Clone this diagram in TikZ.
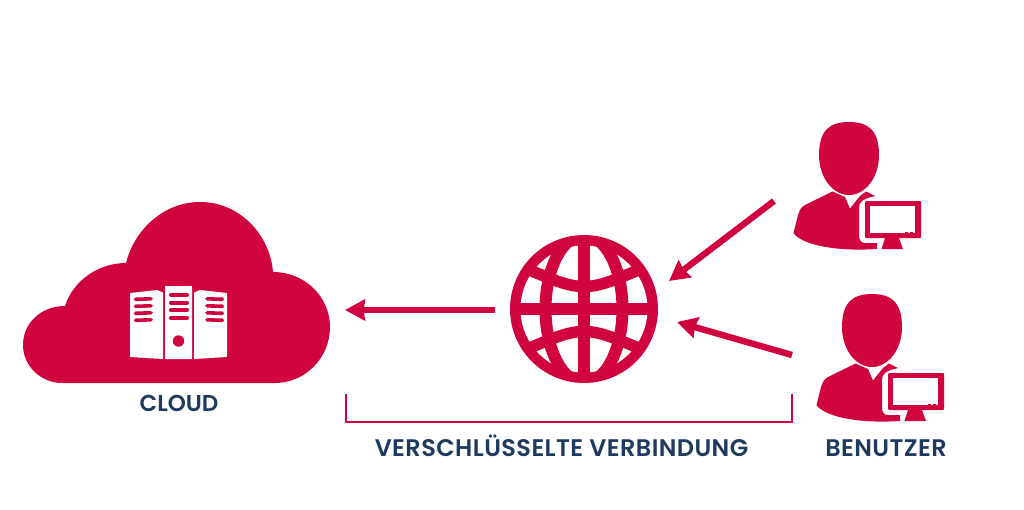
\documentclass[tikz,border=0pt]{standalone}
\usepackage{fontspec}
\setmainfont{Poppins SemiBold}
\usetikzlibrary{arrows.meta}
\definecolor{brandred}{HTML}{D0043F}
\definecolor{brandnavy}{HTML}{1E3A5F}
\tikzset{
  label text/.style={text=brandnavy,font=\fontsize{24}{26}\selectfont\addfontfeature{LetterSpace=1.8},inner sep=0pt,anchor=base},
  flow/.style={draw=brandred,line width=6.4pt,-{Stealth[length=20pt,width=21pt,inset=1.5pt]}},
  bracket line/.style={draw=brandred,line width=2.8pt},
  spot/.style={inner sep=0pt,minimum size=0pt},
  person/.pic={
    \fill[brandred] (849,122) .. controls (830,122) and (819,130) .. (819,155)
      .. controls (819,178) and (833,195) .. (849,195)
      .. controls (865,195) and (879,178) .. (879,155)
      .. controls (879,130) and (868,122) .. (849,122) -- cycle;
    \fill[brandred] (832.5,191.5) -- (805,205) .. controls (800,208) and (800,210) .. (798,215)
      -- (793.5,233) .. controls (800,243) and (830,252) .. (877,249) -- (877,243)
      -- (865,243) .. controls (861,243) and (859,240) .. (859,236) -- (859,208)
      .. controls (859,202) and (862,199) .. (875,196) -- (866,191.5) -- (860,196)
      -- (850,208.5) -- (845,197) -- cycle;
    \fill[brandred,rounded corners=1pt] (865,201) rectangle (921,238);
    \fill[white] (869.5,206) rectangle (915,233);
    \fill[brandred] (905,233) rectangle (908,232) (910,233) rectangle (913,232);
    \fill[brandred] (885,238) -- (899,238) -- (903,249) -- (881.5,249) -- cycle;
  }
}
\begin{document}
\begin{tikzpicture}[x=1pt,y=-1pt]
\useasboundingbox (0,0) rectangle (1024,509);
% cloud
\fill[brandred] (62,383) .. controls (41,383) and (23,366) .. (23,345)
  .. controls (23,323) and (41,306) .. (65,306)
  .. controls (73,281) and (98,263) .. (126,263)
  .. controls (135,228) and (165,202) .. (200,202)
  .. controls (240,202) and (270,235) .. (273,272)
  .. controls (305,272) and (330,297) .. (330,327)
  .. controls (330,358) and (305,383) .. (275,383) -- cycle;
\node[spot,minimum width=307pt,minimum height=181pt] (cloud) at (176.5,292.5) {};
% servers
\fill[white,rounded corners=.6pt] (165,286) rectangle (192,359);
\fill[white,rounded corners=.6pt] (130,293) -- (157,290) -- (163,292.5) -- (163,359) -- (130,357) -- cycle;
\fill[white,rounded corners=.6pt] (227,293) -- (200,290) -- (194,292.5) -- (194,359) -- (227,357) -- cycle;
\foreach \sy in {294.7,302.6,310.2,318}{\draw[brandred,line width=4pt,line cap=round] (171,\sy) -- (187,\sy);}
\foreach \sy in {299.3,306.3,313.3,320.3}{
  \draw[brandred,line width=3.6pt,line cap=round] (135.5,\sy) -- (151,\sy-.5);
  \draw[brandred,line width=3.6pt,line cap=round] (207,\sy-.5) -- (222.5,\sy);}
\fill[brandred] (178.5,341) circle[radius=5.7];
% globe
\node[spot,circle,minimum size=148pt] (globe) at (584,309) {};
\fill[brandred] (584,309) circle[radius=74];
\fill[white] (584,309) circle[radius=63.5];
\begin{scope}
\clip (584,309) circle[radius=68];
\draw[brandred,line width=12.5pt] (584,235) -- (584,383);
\draw[brandred,line width=12.5pt] (510,309) -- (658,309);
\draw[brandred,line width=12pt] (584,309) ellipse[x radius=38.5,y radius=74];
\draw[brandred,line width=11.5pt] (519,265.4) .. controls (584,293.6) .. (649,265.4);
\draw[brandred,line width=11.5pt] (519,352.6) .. controls (584,324.4) .. (649,352.6);
\end{scope}
% people
\pic {person};
\pic[xshift=23pt,yshift=-172pt] {person};
% connectors
\coordinate (a1) at (494.5,310);
\coordinate (a1e) at (345,310);
\coordinate (a2) at (774,201);
\coordinate (a2e) at (669,281);
\coordinate (a3) at (792,355);
\coordinate (a3e) at (677,322);
\draw[flow] (a1) -- (a1e);
\draw[flow] (a2) -- (a2e);
\draw[flow] (a3) -- (a3e);
\coordinate (b1) at (346,394);
\coordinate (b2) at (346,422);
\coordinate (b3) at (792,422);
\coordinate (b4) at (792,394);
\draw[bracket line] (b1) -- (b2) -- (b3) -- (b4);
% labels
\node[label text,font=\fontsize{23}{26}\selectfont] (cloudlabel) at (179,411.7) {CLOUD};
\node[label text] (vpnlabel) at (561.5,456.7) {VERSCHLÜSSELTE VERBINDUNG};
\node[label text] (userlabel) at (886,456.7) {BENUTZER};
\end{tikzpicture}
\end{document}
